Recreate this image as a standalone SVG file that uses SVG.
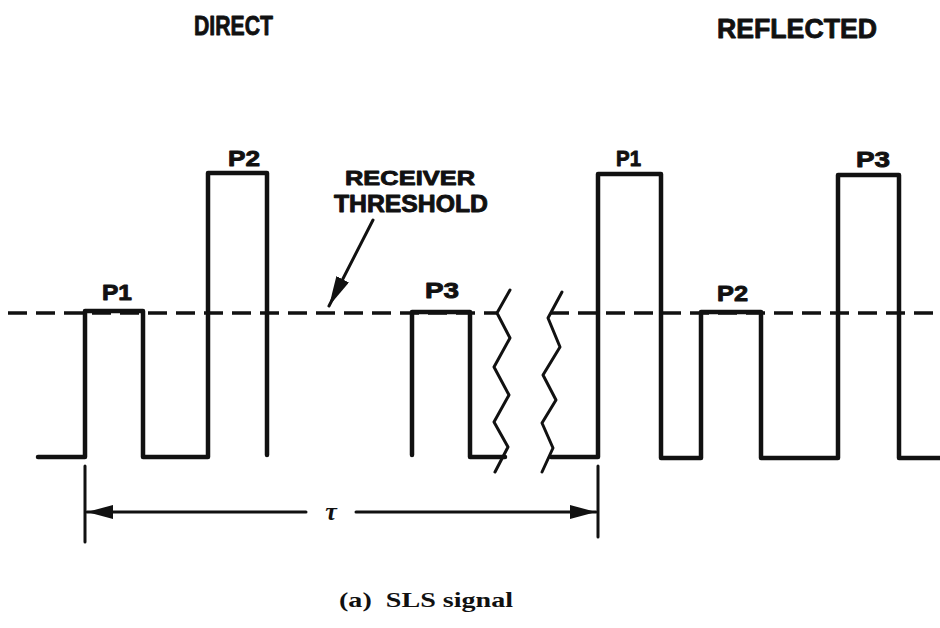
<svg xmlns="http://www.w3.org/2000/svg" width="940" height="628" viewBox="0 0 940 628">
<defs>
<style>
.lbl{font-family:"Liberation Sans",Arial,sans-serif;font-weight:bold;fill:#111;stroke:#111;stroke-width:0.9;stroke-linejoin:round;}
.wave{fill:none;stroke:#111;stroke-width:4.5;stroke-linejoin:round;stroke-linecap:round;}
.thin{fill:none;stroke:#111;stroke-width:3;stroke-linecap:round;stroke-linejoin:round;}
.dash{fill:none;stroke:#111;stroke-width:3.5;stroke-dasharray:19 9;}
.cap{font-family:"Liberation Serif","Times New Roman",serif;font-weight:bold;fill:#111;}
</style>
<marker id="ah" viewBox="0 0 26 14" refX="26" refY="7" markerWidth="26" markerHeight="14" markerUnits="userSpaceOnUse" orient="auto">
<path d="M0,0 L26,7 L0,14 z" fill="#111"/>
</marker>
<marker id="ah2" viewBox="0 0 30 14" refX="30" refY="7" markerWidth="30" markerHeight="14" markerUnits="userSpaceOnUse" orient="auto">
<path d="M0,0 L30,7 L0,14 z" fill="#111"/>
</marker>
</defs>
<rect width="940" height="628" fill="#fff"/>
<g id="titles">
<text class="lbl" x="194" y="35" font-size="28" textLength="79" lengthAdjust="spacingAndGlyphs">DIRECT</text>
<text class="lbl" x="717" y="38" font-size="28" textLength="160" lengthAdjust="spacingAndGlyphs">REFLECTED</text>
</g>
<g id="threshold-line">
<path class="dash" d="M8,313 H497"/>
<path class="dash" d="M550,313 H940"/>
</g>
<g id="direct-signal">
<path class="wave" d="M38,457 H85 V311 H143 V457 H208 V173 H267 V455"/>
<path class="wave" d="M412,455 V312 H470 V457 H505"/>
<text class="lbl" x="102" y="300" font-size="22" textLength="30" lengthAdjust="spacingAndGlyphs">P1</text>
<text class="lbl" x="228" y="166" font-size="22" textLength="32" lengthAdjust="spacingAndGlyphs">P2</text>
<text class="lbl" x="425" y="298" font-size="22" textLength="34" lengthAdjust="spacingAndGlyphs">P3</text>
</g>
<g id="break">
<polyline class="thin" points="510,290 497,313 510,338 494,367 509,395 494,422 508,447 495,472"/>
<polyline class="thin" points="562,292 548,318 560,347 543,375 556,400 542,423 553,448 542,472"/>
</g>
<g id="reflected-signal">
<path class="wave" d="M551,457 H598 V174 H661 V458 H701 V312 H761 V458 H838 V175 H899 V458 H942"/>
<text class="lbl" x="616" y="166" font-size="22" textLength="25" lengthAdjust="spacingAndGlyphs">P1</text>
<text class="lbl" x="717" y="301" font-size="22" textLength="31" lengthAdjust="spacingAndGlyphs">P2</text>
<text class="lbl" x="856" y="167" font-size="22" textLength="34" lengthAdjust="spacingAndGlyphs">P3</text>
</g>
<g id="receiver-threshold-label">
<text class="lbl" x="345" y="185" font-size="21" textLength="130" lengthAdjust="spacingAndGlyphs">RECEIVER</text>
<text class="lbl" x="334" y="212" font-size="23" textLength="154" lengthAdjust="spacingAndGlyphs">THRESHOLD</text>
</g>
<g id="connectors">
<line class="thin" x1="373" y1="220" x2="329" y2="306" marker-end="url(#ah2)"/>
<line class="thin" x1="85" y1="466" x2="85" y2="542"/>
<line class="thin" x1="598" y1="466" x2="598" y2="537"/>
<line class="thin" x1="306" y1="512" x2="87" y2="512" marker-end="url(#ah)"/>
<line class="thin" x1="356" y1="512" x2="596" y2="512" marker-end="url(#ah)"/>
</g>
<g id="tau">
<text class="cap" x="331" y="520" font-size="26" font-style="italic" text-anchor="middle">τ</text>
</g>
<g id="caption">
<text class="cap" x="339" y="607" font-size="22" textLength="174" lengthAdjust="spacingAndGlyphs" xml:space="preserve">(a)  SLS signal</text>
</g>
</svg>
